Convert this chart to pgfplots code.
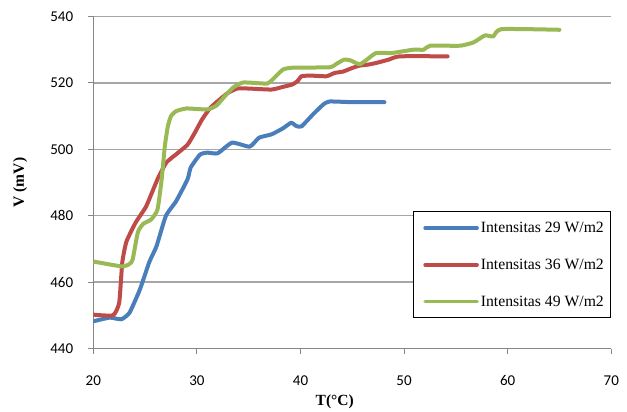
\documentclass[border=0pt]{standalone}
\usepackage{pgfplots}
\pgfplotsset{compat=1.18}
\usepackage{fontspec}
\setmainfont{Liberation Serif}
\newfontfamily\calibri{Carlito}
\definecolor{cblue}{HTML}{4A7EBB}
\definecolor{cred}{HTML}{BE4B48}
\definecolor{cgreen}{HTML}{98B954}
\definecolor{axisgray}{HTML}{868686}
\definecolor{gridgray}{HTML}{A6A6A6}
\begin{document}
\begin{tikzpicture}
\begin{axis}[
  scale only axis, width=518bp, height=332bp,
  xmin=20, xmax=70, ymin=440, ymax=540,
  xtick={20,30,...,70}, ytick={440,460,...,540},
  axis lines=left, axis line style={-, draw=axisgray, line width=1.3bp},
  ymajorgrids, grid style={draw=gridgray, line width=1.3bp},
  tick style={draw=axisgray, line width=1.1bp}, major tick length=5bp, tick align=outside,
  /pgf/number format/assume math mode=true,
  ticklabel style={font=\calibri\fontsize{15bp}{18bp}\selectfont},
  yticklabel style={inner sep=0pt, anchor=east, xshift=-15bp},
  xticklabel style={inner sep=0pt, anchor=north, yshift=-22bp},
  xlabel={T(\textdegree C)}, ylabel={V (mV)},
  label style={font=\bfseries\fontsize{15.5bp}{18bp}\selectfont},
  xlabel style={at={(axis description cs:0.466,-0.16)}, anchor=center},
  ylabel style={at={(axis description cs:-0.141,0.5)}, anchor=center},
  legend style={at={(axis description cs:1,0.4127)}, anchor=north east, draw=black, line width=1bp,
    font=\fontsize{15.7bp}{18bp}\selectfont, inner xsep=5bp, inner ysep=8bp, row sep=21bp},
  legend cell align=left,
  legend image code/.code={\path (0bp,0bp); \draw[#1,line width=3.5bp] (5bp,0bp) -- (57bp,0bp);},
  every axis plot/.append style={line width=4bp, smooth, tension=0.3, line join=round, line cap=round},
]
\addplot[cblue] coordinates {(20,448.2)(21.6,449.3)(22.7,448.8)(23.5,450.8)(24.5,457.8)(25.4,466)(26.1,470.8)(27,479.9)(28,484.4)(29.1,491)(29.4,494.5)(30.3,498.4)(31,499)(32,498.8)(33.4,502)(35.1,500.8)(36,503.5)(37.2,504.5)(38.3,506.3)(39.1,508)(39.6,507)(40.1,506.9)(41.2,510.5)(42.2,513.5)(42.8,514.4)(45,514.2)(48.1,514.2)};
\addlegendentry{Intensitas 29 W/m2}
\addplot[cred] coordinates {(20,450.2)(21.9,450)(22.5,453.8)(22.8,466)(23.2,472.2)(24.1,478)(25.1,482.8)(26.2,491)(27.05,496)(28,498.5)(29.1,501.4)(29.8,505)(30.5,509)(31.3,512.5)(32.2,515)(33,517)(33.9,518.3)(35,518.3)(37.2,518)(38.3,518.8)(39.2,519.5)(39.7,520.5)(40.1,522)(41,522.2)(42.5,522)(43.3,523)(44.1,523.4)(45,524.5)(45.7,525.2)(46.5,525.5)(47.3,526)(48.5,527)(49.6,528)(54.2,528)};
\addlegendentry{Intensitas 36 W/m2}
\addplot[cgreen] coordinates {(20,466.2)(22.8,464.7)(23.5,465.5)(23.8,466.8)(24.3,475)(24.8,477.5)(25.6,478.9)(26.2,481.9)(26.6,491)(26.9,500.8)(27.2,507)(27.5,510)(28,511.5)(29,512.3)(31,512)(31.9,513.2)(32.7,516)(33.5,518.6)(34.4,520.1)(35.5,520)(36.8,519.8)(37.3,521)(38.3,524)(39.3,524.6)(42.8,524.7)(43.5,525.8)(44.2,527)(44.8,526.8)(45.7,525.6)(46.4,527)(47.3,529)(48.8,529)(50.9,530)(51.9,530)(52.5,531.2)(55.4,531.2)(56.7,532.2)(57.8,534.3)(58.6,534)(59.4,536.2)(65,536)};
\addlegendentry{Intensitas 49 W/m2}
\end{axis}
\useasboundingbox (-93.3bp,-62.5bp) rectangle (533.7bp,348.5bp);
\end{tikzpicture}
\end{document}
